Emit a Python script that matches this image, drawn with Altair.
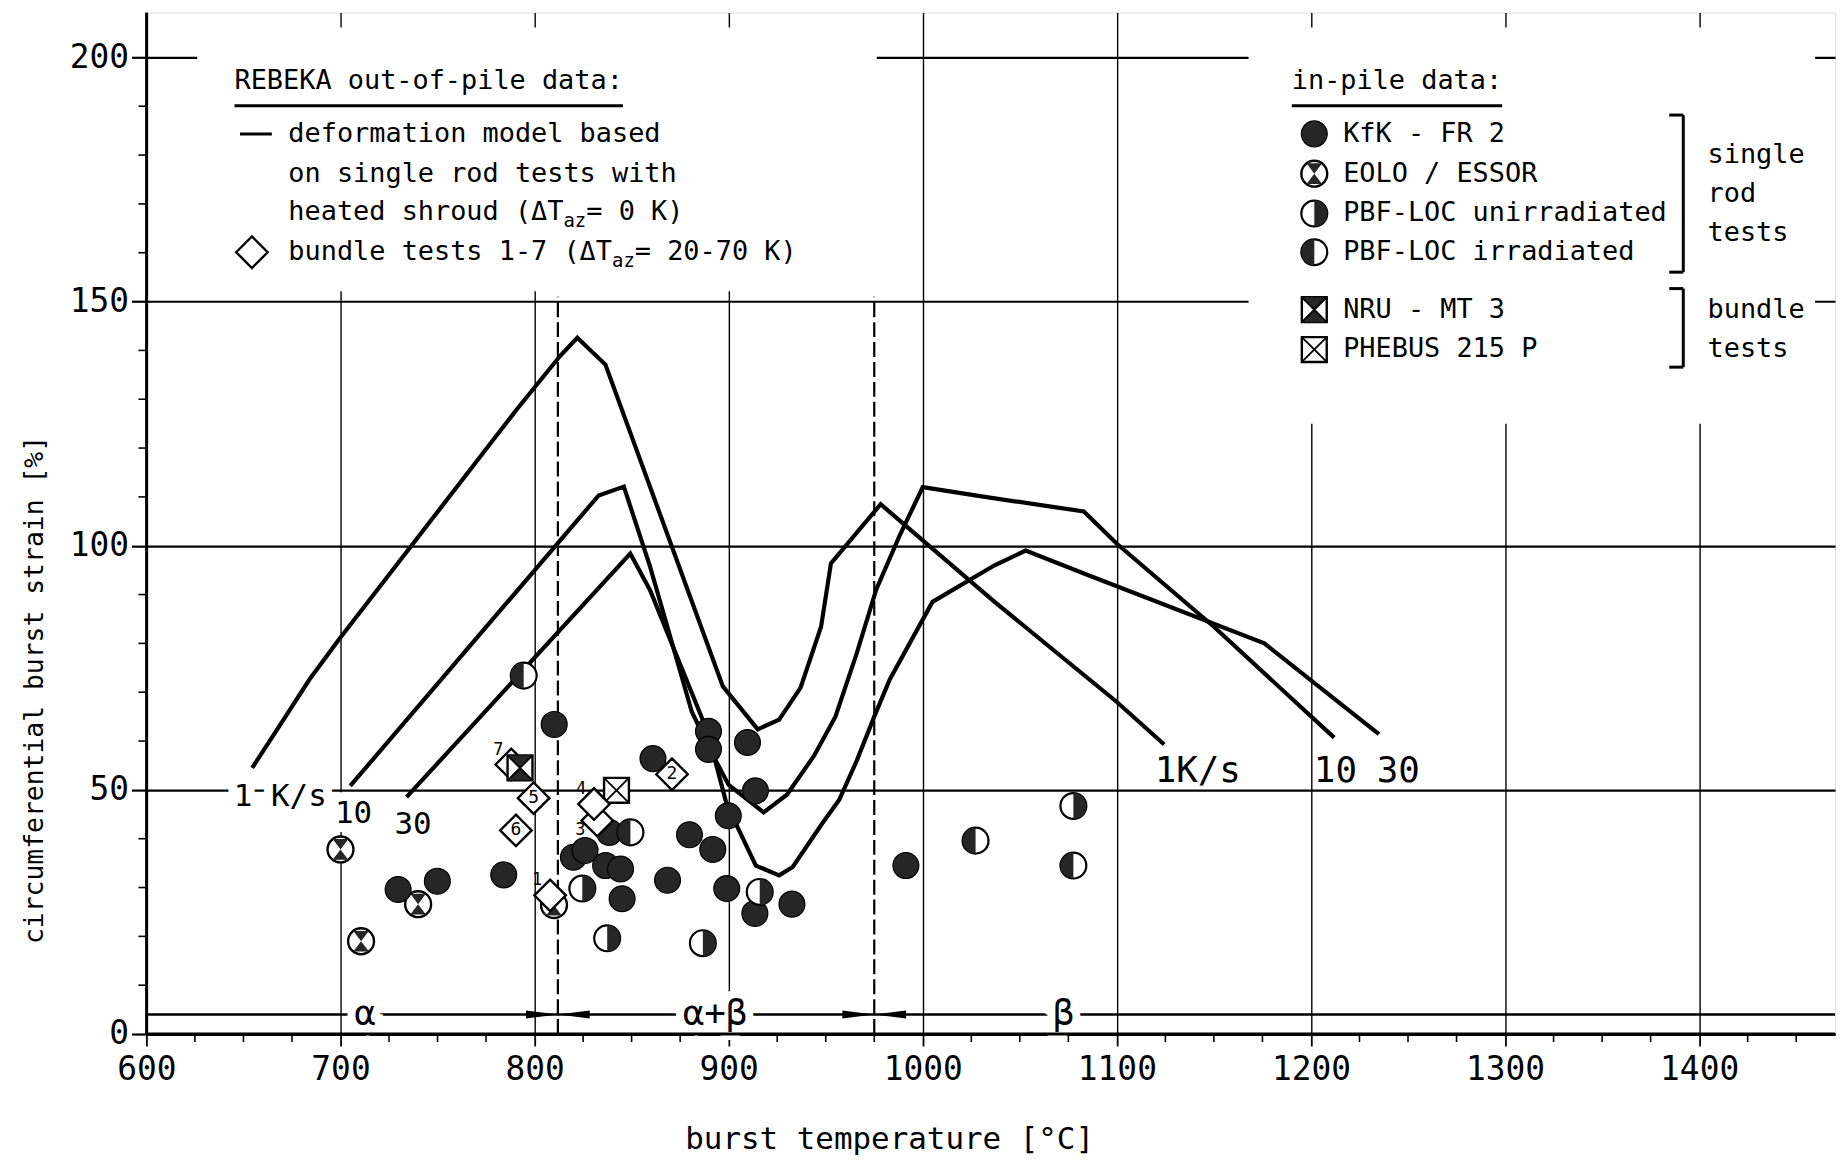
import math
import altair as alt
import pandas as pd

MONO = "DejaVu Sans Mono"

# ---------------- data ----------------
# REBEKA deformation model curves, heating rate 1, 10, 30 K/s
c1_T = [654.5, 670, 684, 699, 791, 813, 822, 836.5, 897, 915, 926, 937, 947.6, 952.7, 978.3, 1000, 1037, 1100, 1124.4]
c1_S = [54.5, 64, 72.6, 80.7, 128, 138.8, 142.6, 137.1, 71.2, 62.4, 64.4, 70.9, 83.4, 96.4, 108.5, 101.1, 88.5, 68, 59.3]
c10_T = [705, 833, 846, 859.5, 881, 890, 900, 918, 930, 944, 955, 966, 976, 988, 1000, 1027, 1083, 1100, 1150, 1198, 1212]
c10_S = [50.8, 110.3, 112.1, 95.7, 66, 58.5, 51, 45.4, 49, 57, 65, 78, 91, 102, 112, 110.3, 107, 100.4, 83.4, 65.8, 60.7]
c30_T = [734, 849.3, 859.5, 889, 899, 914, 926, 933, 948, 957, 966, 975, 983, 1005, 1037, 1053, 1085, 1176, 1235]
c30_S = [48.5, 98.4, 90.9, 62, 47, 34.5, 32.5, 34.2, 43, 48, 56, 65, 72.6, 88.5, 96, 99, 94, 80, 61.4]

# in-pile data
kfk_T = [729.7, 749.9, 784.1, 810.1, 820, 826, 836.6, 838.5, 844.3, 845.1, 861, 868.5, 879.8, 889.6, 889.6,
         891.8, 899.8, 899, 909.7, 913.8, 913.5, 932.6, 991.3]
kfk_S = [29.6, 31.3, 32.6, 63.4, 36.2, 37.6, 34.5, 41.3, 33.8, 27.7, 56.4, 31.5, 40.8, 62, 58.3,
         37.8, 44.7, 29.8, 59.7, 49.8, 24.7, 26.6, 34.5]
eolo_T = [700, 710.6, 740, 810]
eolo_S = [37.8, 19, 26.6, 26.4]
pbfu_T = [824.6, 837.4, 886.7, 916, 1077.6]
pbfu_S = [29.8, 19.6, 18.6, 29.1, 46.7]
pbfi_T = [794.4, 849.4, 1027.2, 1077.6]
pbfi_S = [73.4, 41.3, 39.6, 34.5]
nru_T = [792.5]
nru_S = [54.5]
phebus_T = [842.2]
phebus_S = [49.9]

# REBEKA bundle tests 1-7
bundle_lab = ["1", "2", "3", "4", "5", "6", "7"]
bundle_T = [808, 870.8, 832.3, 830.6, 799.5, 790.4, 788]
bundle_S = [28.4, 53.2, 43.7, 47.1, 48.3, 41.7, 55.2]

# curve labels
clab_left = ["1 K/s", "10", "30"]
clab_left_T = [669, 706.7, 737.4]
clab_left_S = [48.5, 45, 42.7]
clab_right = ["1K/s", "10", "30"]
clab_right_T = [1141.7, 1212.6, 1245]
clab_right_S = [53.9, 53.9, 53.9]

# phase regions
phase_lab = ["α", "α+β", "β"]
phase_lab_T = [712.6, 893, 1072.5]
phase_S = [4.0]
bound_T = [812, 975]
bound_top = [151]

x_major = [600, 700, 800, 900, 1000, 1100, 1200, 1300, 1400]
y_major = [0, 50, 100, 150, 200]
x_minor = [t for t in range(625, 1470, 25) if t % 100]
y_minor = [v for v in range(10, 201, 10) if v % 50]

# ---------------- chart ----------------
W, H = 1696, 1026
xs = alt.Scale(domain=[600, 1470], nice=False, zero=False)
ys = alt.Scale(domain=[0, 209.2], nice=False, zero=False)

x_axis = alt.Axis(values=x_major, format="d", grid=True, gridColor="black", gridWidth=1.4, gridOpacity=1,
                  tickColor="black", tickSize=12, tickWidth=1.8, domainColor="black", domainWidth=3,
                  labelFont=MONO, labelFontSize=33, labelColor="black", labelPadding=8, labelFlush=False,
                  labelOverlap=False, title="burst temperature [°C]", titleFont=MONO, titleFontSize=31,
                  titleFontWeight="normal", titleColor="black", titleX=746, titleY=106, titleAlign="center",
                  titleBaseline="middle", zindex=0)
y_axis = alt.Axis(values=y_major, grid=True, gridColor="black", gridWidth=2.2, gridOpacity=1,
                  tickColor="black", tickSize=15, tickWidth=2.2, domainColor="black", domainWidth=2.5,
                  labelFont=MONO, labelFontSize=33, labelColor="black", labelPadding=3, labelFlush=False,
                  title="circumferential burst strain [%]", titleFont=MONO, titleFontSize=26.5,
                  titleFontWeight="normal", titleColor="black", titleX=-112, titleY=680, titleAngle=-90,
                  titleAlign="center", titleBaseline="middle", zindex=0)


def X(f="T"):
    return alt.X(f"{f}:Q", scale=xs, axis=x_axis)


def Y(f="S"):
    return alt.Y(f"{f}:Q", scale=ys, axis=y_axis)


ONE = pd.DataFrame({"k": [0]})
DARK = "#262626"


def half(side):
    pts = []
    for i in range(17):
        a = -math.pi / 2 + math.pi * i / 16
        pts.append((side * math.cos(a), math.sin(a)))
    return "M" + " L".join(f"{x:.3f},{y:.3f}" for x, y in pts) + " Z"


HG_CIRC = "M-0.6,-0.8 L0.6,-0.8 L0,0 Z M-0.6,0.8 L0.6,0.8 L0,0 Z"
HG_SQ = "M-1,-1 L1,-1 L0,0 Z M-1,1 L1,1 L0,0 Z"
XSQ = "M-1,-1 L1,1 M-1,1 L1,-1"
ARROW_R = "M0,0 L-2,-0.25 L-2,0.25 Z"
ARROW_L = "M0,0 L2,-0.25 L2,0.25 Z"

CS = 676   # circle size
SS = 625   # square size


def sym(shape, size, fill=None, stroke=None, sw=2.2, df=None, px=None):
    kw = dict(shape=shape, size=size, opacity=1)
    if fill:
        kw.update(filled=True, fill=fill)
    else:
        kw.update(filled=False)
    if stroke:
        kw.update(stroke=stroke, strokeWidth=sw)
    else:
        kw.update(strokeWidth=0)
    if px is None:
        return alt.Chart(df).mark_point(**kw).encode(x=X(), y=Y())
    return alt.Chart(ONE).mark_point(**kw).encode(x=alt.value(px[0]), y=alt.value(px[1]))


def kind(k, df=None, px=None):
    if k == "kfk":
        return [sym("circle", CS, fill=DARK, stroke="black", sw=1.2, df=df, px=px)]
    if k == "eolo":
        return [sym("circle", CS, fill="white", stroke="black", sw=2.4, df=df, px=px),
                sym(HG_CIRC, CS, fill=DARK, df=df, px=px)]
    if k == "pbfu":
        return [sym("circle", CS, fill="white", stroke="black", sw=2.2, df=df, px=px),
                sym(half(1), CS, fill=DARK, df=df, px=px)]
    if k == "pbfi":
        return [sym("circle", CS, fill="white", stroke="black", sw=2.2, df=df, px=px),
                sym(half(-1), CS, fill=DARK, df=df, px=px)]
    if k == "nru":
        return [sym("square", SS, fill="white", stroke="black", sw=2.4, df=df, px=px),
                sym(HG_SQ, SS, fill=DARK, df=df, px=px),
                sym(XSQ, SS, stroke="black", sw=1.8, df=df, px=px)]
    if k == "phebus":
        return [sym("square", SS, fill="white", stroke="black", sw=2.4, df=df, px=px),
                sym(XSQ, SS, stroke="black", sw=1.8, df=df, px=px)]
    if k == "diamond":
        return [sym("diamond", 1000, fill="white", stroke="black", sw=2.4, df=df, px=px)]
    return []


def txt(s, x, y, size=27, align="left", baseline="middle"):
    return alt.Chart(ONE).mark_text(text=s, font=MONO, fontSize=size, align=align, baseline=baseline,
                                    color="black").encode(x=alt.value(x), y=alt.value(y))


def seg(x1, x2, y1, y2, w=3):
    return alt.Chart(ONE).mark_rule(color="black", strokeWidth=w).encode(
        x=alt.value(x1), x2=alt.value(x2), y=alt.value(y1), y2=alt.value(y2))


def mask(x1, x2, y1, y2):
    return alt.Chart(ONE).mark_rect(fill="white", strokeWidth=0).encode(
        x=alt.value(x1), x2=alt.value(x2), y=alt.value(y1), y2=alt.value(y2))


layers = []

# masks for the legend areas (grid interrupted there)
layers += [mask(51, 733.6, 15, 280), mask(1107, 1676, 15, 413)]

# minor ticks
layers.append(alt.Chart(pd.DataFrame({"T": x_minor})).mark_rule(color="black", strokeWidth=1.6).encode(
    x=X(), y=alt.value(H), y2=alt.value(H + 8)))
layers.append(alt.Chart(pd.DataFrame({"S": y_minor})).mark_rule(color="black", strokeWidth=1.6).encode(
    y=Y(), x=alt.value(-8), x2=alt.value(0)))

# phase line and boundaries
layers.append(alt.Chart(pd.DataFrame({"S": phase_S})).mark_rule(color="black", strokeWidth=2.4).encode(
    y=Y(), x=alt.value(0), x2=alt.value(W)))
bdf = pd.DataFrame({"T": bound_T, "S0": [0] * len(bound_T), "S1": bound_top * len(bound_T)})
layers.append(alt.Chart(bdf).mark_rule(color="black", strokeWidth=2.2, strokeDash=[15, 5]).encode(
    x=X(), y=Y("S0"), y2="S1:Q"))

# label halos
phdf = pd.DataFrame({"T": phase_lab_T, "S": phase_S * len(phase_lab_T), "label": phase_lab})
cl_df = pd.DataFrame({"T": clab_left_T, "S": clab_left_S, "label": clab_left})
cr_df = pd.DataFrame({"T": clab_right_T, "S": clab_right_S, "label": clab_right})
layers.append(alt.Chart(phdf).mark_text(font=MONO, fontSize=36, fill="white", stroke="white", strokeWidth=16,
                                        baseline="middle").encode(x=X(), y=Y(), text="label:N"))
layers.append(alt.Chart(cl_df).mark_text(font=MONO, fontSize=31, fill="white", stroke="white", strokeWidth=18,
                                         baseline="middle").encode(x=X(), y=Y(), text="label:N"))

# model curves
cdf = pd.concat([
    pd.DataFrame({"T": c1_T, "S": c1_S, "rate": "1 K/s", "i": range(len(c1_T))}),
    pd.DataFrame({"T": c10_T, "S": c10_S, "rate": "10 K/s", "i": range(len(c10_T))}),
    pd.DataFrame({"T": c30_T, "S": c30_S, "rate": "30 K/s", "i": range(len(c30_T))}),
])
layers.append(alt.Chart(cdf).mark_line(color="black", strokeWidth=4.2, strokeJoin="miter").encode(
    x=X(), y=Y(), detail="rate:N", order="i:Q"))

# arrows at the phase boundaries
adf = pd.DataFrame({"T": bound_T, "S": phase_S * len(bound_T)})
layers.append(sym(ARROW_R, 1024, fill="black", df=adf))
layers.append(sym(ARROW_L, 1024, fill="black", df=adf))

# data points
layers += kind("eolo", df=pd.DataFrame({"T": eolo_T, "S": eolo_S}))
layers += kind("kfk", df=pd.DataFrame({"T": kfk_T, "S": kfk_S}))
layers += kind("pbfu", df=pd.DataFrame({"T": pbfu_T, "S": pbfu_S}))
layers += kind("pbfi", df=pd.DataFrame({"T": pbfi_T, "S": pbfi_S}))
layers += kind("phebus", df=pd.DataFrame({"T": phebus_T, "S": phebus_S}))
bdf2 = pd.DataFrame({"T": bundle_T, "S": bundle_S, "label": bundle_lab})
layers += kind("diamond", df=bdf2)
layers += kind("nru", df=pd.DataFrame({"T": nru_T, "S": nru_S}))

# bundle test numbers
layers.append(alt.Chart(bdf2).transform_filter(alt.FieldOneOfPredicate(field="label", oneOf=["2", "5", "6"]))
              .mark_text(font=MONO, fontSize=18, baseline="middle", color="black").encode(
                  x=X(), y=Y(), text="label:N"))
layers.append(alt.Chart(bdf2).transform_filter(alt.FieldOneOfPredicate(field="label", oneOf=["1", "4", "7"]))
              .mark_text(font=MONO, fontSize=17, baseline="middle", color="black", dx=-13, dy=-15).encode(
                  x=X(), y=Y(), text="label:N"))
layers.append(alt.Chart(bdf2).transform_filter(alt.FieldOneOfPredicate(field="label", oneOf=["3"]))
              .mark_text(font=MONO, fontSize=17, baseline="middle", color="black", dx=-17, dy=9).encode(
                  x=X(), y=Y(), text="label:N"))

# curve and phase labels
layers.append(alt.Chart(phdf).mark_text(font=MONO, fontSize=36, baseline="middle", color="black").encode(
    x=X(), y=Y(), text="label:N"))
layers.append(alt.Chart(cl_df).mark_text(font=MONO, fontSize=31, baseline="middle", color="black").encode(
    x=X(), y=Y(), text="label:N"))
layers.append(alt.Chart(cr_df).mark_text(font=MONO, fontSize=36, baseline="middle", color="black").encode(
    x=X(), y=Y(), text="label:N"))

# axis lines redrawn on top (so no label halo can cut them)
layers += [seg(0, W, H, H, w=3), seg(0, 0, 0, H, w=2.5)]

# ---------------- legends ----------------
FS = 27
ADV = 0.602 * FS
SUB = 19
SADV = 0.602 * SUB

# left: REBEKA out-of-pile
lx = 88.5
t0 = "REBEKA out-of-pile data:"
layers += [txt(t0, lx, 69), seg(lx, lx + len(t0) * ADV, 93.6, 93.6)]
tx = 142.6
layers += [seg(94, 126, 122, 122), txt("deformation model based", tx, 122),
           txt("on single rod tests with", tx, 162)]
for yy, pre, post in [(200.7, "heated shroud (ΔT", " = 0 K)"), (240.8, "bundle tests 1-7 (ΔT", " = 20-70 K)")]:
    xa = tx + len(pre) * ADV
    layers += [txt(pre, tx, yy), txt("az", xa, yy + 9, size=SUB), txt(post, xa + 2 * SADV, yy)]
layers += kind("diamond", px=(106, 240.8))

# right: in-pile data
rx = 1150.4
t1 = "in-pile data:"
layers += [txt(t1, rx, 69), seg(rx, rx + len(t1) * ADV, 93.6, 93.6)]
items = [("kfk", "KfK - FR 2", 121.9), ("eolo", "EOLO / ESSOR", 161.9),
         ("pbfu", "PBF-LOC unirradiated", 201.9), ("pbfi", "PBF-LOC irradiated", 240.8),
         ("nru", "NRU - MT 3", 298.5), ("phebus", "PHEBUS 215 P", 338.5)]
for k, lab, yy in items:
    layers += kind(k, px=(1173, yy))
    layers.append(txt(lab, 1202, yy))
bx, bs = 1543.6, 1529.5
layers += [seg(bx, bx, 103, 260.8), seg(bs, bx, 103, 103), seg(bs, bx, 260.8, 260.8),
           seg(bx, bx, 277.3, 356.2), seg(bs, bx, 277.3, 277.3), seg(bs, bx, 356.2, 356.2)]
for lab, yy in [("single", 143), ("rod", 182), ("tests", 222), ("bundle", 298.5), ("tests", 338.5)]:
    layers.append(txt(lab, 1568, yy))

chart = alt.layer(*layers).properties(
    width=W, height=H,
    padding={"left": 139, "top": 2, "right": 3, "bottom": 122},
    autosize=alt.AutoSizeParams(type="none"),
).configure_view(stroke="black", strokeWidth=2.5).configure(background="white")

chart.save("out.html", embed_options={"renderer": "svg", "actions": False})
